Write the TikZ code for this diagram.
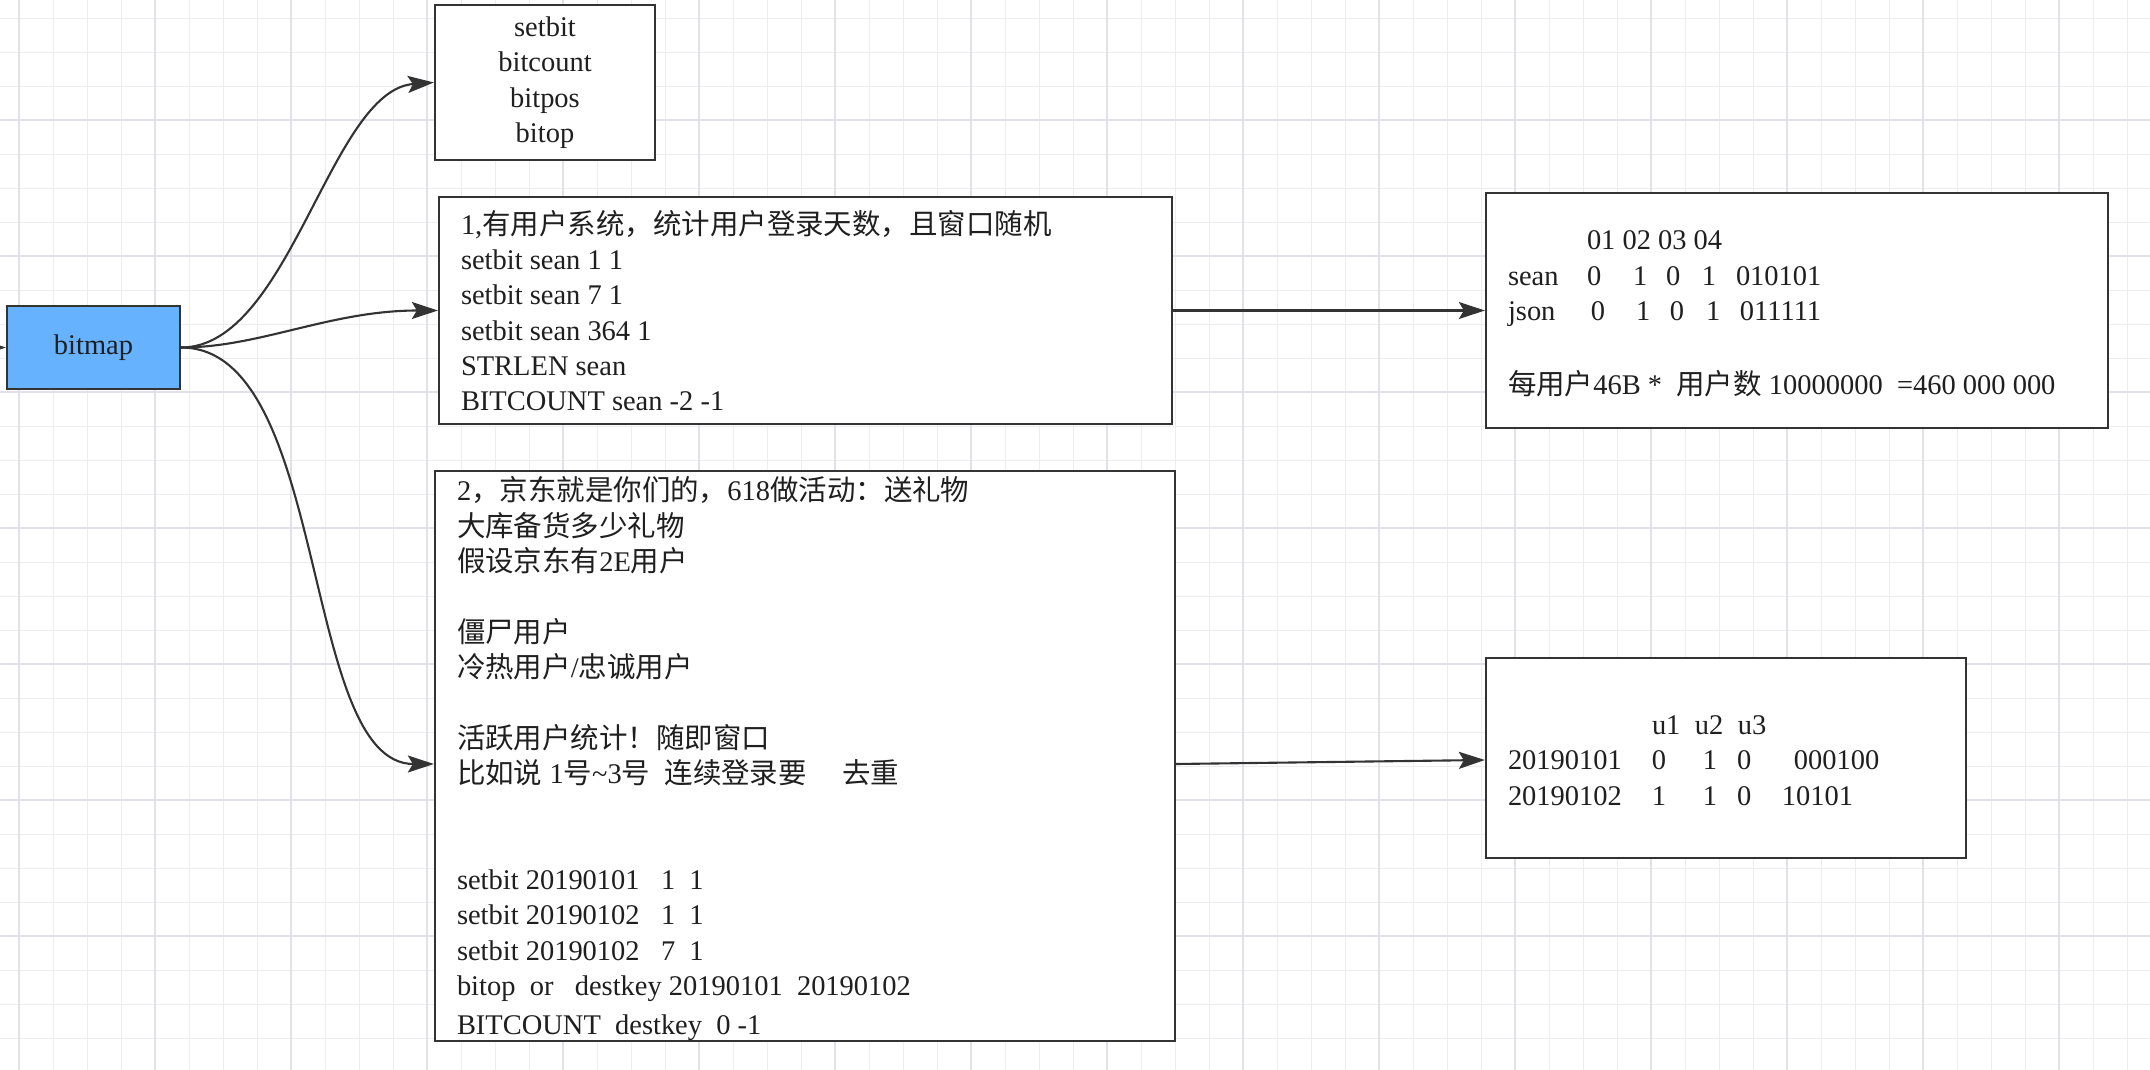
\documentclass[tikz,border=0pt]{standalone}
\usepackage{fontspec}
\setmainfont{Liberation Serif}
\newfontfamily\cjk{Noto Sans CJK SC}
\newcommand{\zh}[1]{{\cjk #1}}
\newcommand{\linestrut}{\rule[-1.65pt]{0pt}{10.05pt}}
\usetikzlibrary{arrows.meta}
\definecolor{edge}{HTML}{333333}
\definecolor{bitblue}{HTML}{66B2FF}
\definecolor{gridminor}{HTML}{EDEDF1}
\definecolor{gridmajor}{HTML}{E2E1E7}

\begin{document}
\begin{tikzpicture}[x=0.1mm, y=-0.1mm,
    every node/.style={font=\fontsize{8.1}{10.05}\selectfont, text=black!88},
    box/.style={draw=edge, line width=0.65pt, fill=white, inner xsep=2.2mm, inner ysep=0pt},
    note/.style={box, align=left,
      execute at begin node={\spaceskip=\fontdimen2\font\xspaceskip=\fontdimen2\font\linestrut},
      execute at end node=\linestrut},
    link/.style={draw=edge, line width=0.6pt, -{Stealth[length=2.6mm, width=1.7mm, inset=0.5mm]}}]
    \useasboundingbox (0,0) rectangle (2150,1070);
    \fill[white] (0,0) rectangle (2150,1070);

    % background grid
    \foreach \g in {19.3,53.3,...,2150} \draw[gridminor, line width=0.3pt] (\g,0) -- (\g,1070);
    \foreach \g in {18.3,52.3,...,1070} \draw[gridminor, line width=0.3pt] (0,\g) -- (2150,\g);
    \foreach \g in {19.3,155.3,...,2150} \draw[gridmajor, line width=0.5pt] (\g,0) -- (\g,1070);
    \foreach \g in {120.3,256.3,...,1070} \draw[gridmajor, line width=0.5pt] (0,\g) -- (2150,\g);

    \node[box, fill=bitblue, align=center, minimum width=17.3mm, minimum height=8.3mm] (bitmap) at (93.5,347.5) {bitmap};
    \node[note, align=center, minimum width=22mm, minimum height=15.5mm] (cmds) at (545,82.5)
      {setbit\\bitcount\\bitpos\\bitop};

    \node[note, text width=68.9mm, minimum height=22.7mm] (case1) at (805.5,310.5)
      {1,\zh{有用户系统，统计用户登录天数，且窗口随机}\\
       setbit sean 1 1\\
       setbit sean 7 1\\
       setbit sean 364 1\\
       STRLEN sean\\
       BITCOUNT sean -2 -1};

    \node[note, text width=69.6mm, minimum height=56.6mm] (case2) at (805,756)
      {2\zh{，京东就是你们的，}618\zh{做活动：送礼物}\\
       \zh{大库备货多少礼物}\\
       \zh{假设京东有}2E\zh{用户}\\[10.05pt]
       \zh{僵尸用户}\\
       \zh{冷热用户}/\zh{忠诚用户}\\[10.05pt]
       \zh{活跃用户统计！随即窗口}\\
       \zh{比如说} 1\zh{号}\textasciitilde3\zh{号}~~\zh{连续登录要}~~~~~\zh{去重}\\[20.1pt]
       setbit 20190101~~~1~~1\\
       setbit 20190102~~~1~~1\\
       setbit 20190102~~~7~~1\\
       bitop~~or~~~destkey 20190101~~20190102\\
       BITCOUNT~~destkey~~0 -1};

    \node[note, text width=57.8mm, minimum height=23.5mm] (table1) at (1797,310.5)
      {\hspace*{7.9mm}01 02 03 04\\
       \makebox[7.9mm][l]{sean}\makebox[4.6mm][l]{0}\makebox[3.3mm][l]{1}\makebox[3.6mm][l]{0}\makebox[3.4mm][l]{1}010101\\
       \makebox[8.3mm][l]{json}\makebox[4.5mm][l]{0}\makebox[3.4mm][l]{1}\makebox[3.6mm][l]{0}\makebox[3.4mm][l]{1}011111\\[10.05pt]
       \zh{每用户}46B *~~\zh{用户数} 10000000~~=460 000 000};

    \node[note, text width=43.6mm, minimum height=20mm] (table2) at (1726,758)
      {\hspace*{14.4mm}\makebox[4.3mm][l]{u1}\makebox[4.3mm][l]{u2}u3\\
       \makebox[14.4mm][l]{20190101}\makebox[5.1mm][l]{0}\makebox[3.4mm][l]{1}\makebox[5.7mm][l]{0}000100\\
       \makebox[14.4mm][l]{20190102}\makebox[5.1mm][l]{1}\makebox[3.4mm][l]{1}\makebox[4.5mm][l]{0}10101};

    % incoming edge from off the page
    \coordinate (feed) at (-40,347.5);
    \draw[link] (feed) -- (bitmap);

    \draw[link] (bitmap.east) .. controls (290,347.5) and (330,90) .. (cmds.west);
    \draw[link] (bitmap.east) .. controls (260,347.5) and (330,310.5) .. (case1.west);
    \draw[link] (bitmap.east) .. controls (330,347.5) and (300,764) .. ([yshift=-0.8mm]case2.west);

    \draw[link] (case1) -- (table1);
    \draw[link] ([yshift=-0.8mm]case2.east) -- ([yshift=-0.2mm]table2.west);
\end{tikzpicture}
\end{document}
